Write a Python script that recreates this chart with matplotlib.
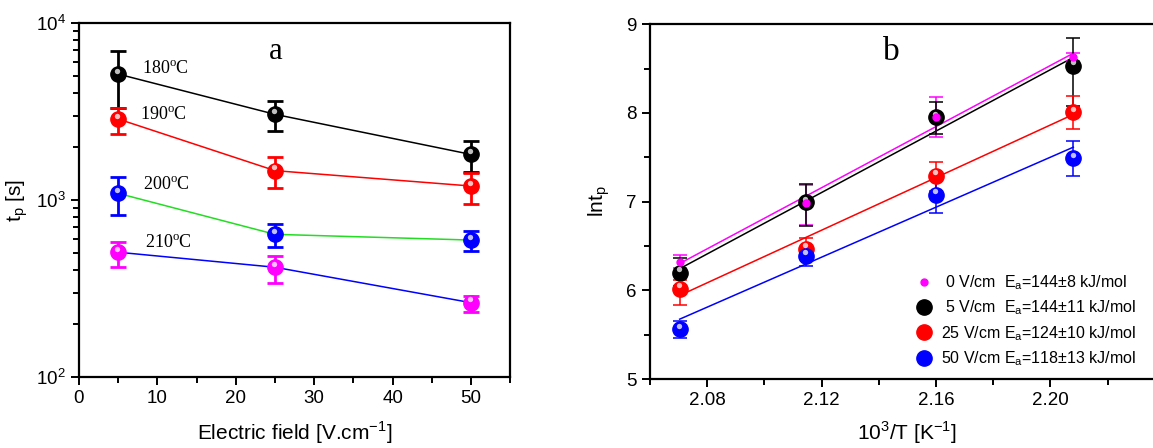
import numpy as np
import matplotlib
matplotlib.use("Agg")
import matplotlib.pyplot as plt
from matplotlib import transforms
from matplotlib.ticker import FixedLocator, FuncFormatter, MultipleLocator

plt.rcParams['font.family'] = ['Liberation Sans', 'DejaVu Sans']

# ---- panel a : t_p vs electric field ----
field = [5, 25, 50]
temps = ['180', '190', '200', '210']
tp = {
    '180': [5150, 3050, 1810],
    '190': [2870, 1466, 1200],
    '200': [1091, 640, 594],
    '210': [507, 417, 263],
}
tp_hi = {
    '180': [6950, 3640, 2150],
    '190': [3300, 1740, 1426],
    '200': [1355, 731, 668],
    '210': [577, 485, 287],
}
tp_lo = {
    '180': [3310, 2470, 1445],
    '190': [2350, 1175, 949],
    '200': [822, 541, 518],
    '210': [417, 341, 234],
}
marker_col_a = {'180': 'black', '190': 'red', '200': 'blue', '210': 'magenta'}
line_col_a = {'180': 'black', '190': 'red', '200': '#22dd22', '210': 'blue'}
label_pos_a = {'180': (8.0, 5500), '190': (7.8, 3020), '200': (8.2, 1205), '210': (8.4, 571)}

# ---- panel b : ln t_p vs 1000/T ----
invT = [2.0704, 2.1144, 2.160, 2.208]
fields_b = ['0', '5', '25', '50']
lntp = {
    '0': [6.32, 6.98, 7.95, 8.63],
    '5': [6.20, 6.99, 7.95, 8.53],
    '25': [6.02, 6.47, 7.29, 8.01],
    '50': [5.56, 6.39, 7.08, 7.49],
}
lntp_hi = {
    '0': [6.40, 7.19, 8.18, 8.68],
    '5': [6.36, 7.20, 8.12, 8.84],
    '25': [6.12, 6.59, 7.45, 8.19],
    '50': [5.65, 6.47, 7.24, 7.68],
}
lntp_lo = {
    '0': [6.25, 6.74, 7.73, 8.58],
    '5': [6.05, 6.72, 7.76, 8.08],
    '25': [5.83, 6.35, 7.12, 7.82],
    '50': [5.46, 6.27, 6.87, 7.29],
}
col_b = {'0': 'magenta', '5': 'black', '25': 'red', '50': 'blue'}
legend_b = {
    '0': ' 0 V/cm  E$_\\mathregular{a}$=144\u00b18 kJ/mol',
    '5': ' 5 V/cm  E$_\\mathregular{a}$=144\u00b111 kJ/mol',
    '25': '25 V/cm E$_\\mathregular{a}$=124\u00b110 kJ/mol',
    '50': '50 V/cm E$_\\mathregular{a}$=118\u00b113 kJ/mol',
}


def ball(ax, x, y, color, ms):
    # Origin style shaded sphere: base disc plus a small highlight
    h = ax.plot(x, y, 'o', ms=ms, color=color, mec=color, zorder=4, ls='none')[0]
    off = transforms.offset_copy(ax.transData, fig=ax.figure, x=-0.5, y=2.5, units='points')
    ax.plot(x, y, 'o', ms=ms * 0.35, color='white', mec='none', alpha=0.75,
            transform=off, zorder=5, ls='none')
    return h


def style_axes(ax):
    for s in ax.spines.values():
        s.set_linewidth(1.6)
    ax.tick_params(which='both', direction='out', width=1.4, labelsize=13.5,
                   top=False, right=False)
    ax.tick_params(which='major', length=6)
    ax.tick_params(which='minor', length=4)


fig = plt.figure(figsize=(11.53, 4.48), dpi=100)

# panel a
ax1 = fig.add_axes([0.0685, 0.1585, 0.374, 0.790])
for t in temps:
    y = np.array(tp[t])
    err = [y - np.array(tp_lo[t]), np.array(tp_hi[t]) - y]
    ax1.plot(field, y, '-', color=line_col_a[t], lw=1.1, zorder=2)
    ax1.errorbar(field, y, yerr=err, fmt='none', ecolor=marker_col_a[t],
                 elinewidth=2.0, capsize=6, capthick=2.0, zorder=3)
    ball(ax1, field, y, marker_col_a[t], 11)
    lx, ly = label_pos_a[t]
    ax1.text(lx, ly, t + '$^\\mathregular{o}$C', family='Liberation Serif',
             fontsize=13, va='center', ha='left')
ax1.text(25.1, 6890, 'a', family='Liberation Serif', fontsize=22, ha='center', va='center')
ax1.set_yscale('log')
ax1.set_xlim(0, 55)
ax1.set_ylim(100, 10000)
ax1.xaxis.set_major_locator(MultipleLocator(10))
ax1.xaxis.set_minor_locator(MultipleLocator(5))
ax1.yaxis.set_major_formatter(FuncFormatter(
    lambda v, p: '10$^\\mathregular{%d}$' % round(np.log10(v))))
style_axes(ax1)
ax1.set_xlabel('Electric field [V.cm$^\\mathregular{-1}$]', fontsize=15, labelpad=9)
ax1.set_ylabel('t$_\\mathregular{p}$ [s]', fontsize=15, labelpad=4)

# panel b
ax2 = fig.add_axes([0.5637, 0.154, 0.4466, 0.792])
handles = []
for f in fields_b:
    y = np.array(lntp[f])
    err = [y - np.array(lntp_lo[f]), np.array(lntp_hi[f]) - y]
    k, b = np.polyfit(invT, y, 1)
    xs = np.array([invT[0], invT[-1]])
    ax2.plot(xs, k * xs + b, '-', color=col_b[f], lw=1.1, zorder=2)
    ax2.errorbar(invT, y, yerr=err, fmt='none', ecolor=col_b[f],
                 elinewidth=1.1, capsize=5, capthick=1.1, zorder=3)
    if f == '0':
        h = ax2.plot(invT, y, 'o', ms=5, color=col_b[f], ls='none', zorder=6)[0]
    else:
        h = ball(ax2, invT, y, col_b[f], 11)
    handles.append(h)
ax2.text(2.1445, 8.69, 'b', family='Liberation Serif', fontsize=24, ha='center', va='center')
ax2.legend(handles, [legend_b[f] for f in fields_b], loc='lower left',
           bbox_to_anchor=(0.485, -0.01), frameon=False, fontsize=11.5,
           handletextpad=0.5, labelspacing=0.42, handlelength=1.2)
ax2.set_xlim(2.06, 2.24)
ax2.set_ylim(5, 9)
ax2.xaxis.set_major_locator(FixedLocator([2.08, 2.12, 2.16, 2.20]))
ax2.xaxis.set_minor_locator(FixedLocator([2.06, 2.10, 2.14, 2.18, 2.22]))
ax2.xaxis.set_major_formatter(FuncFormatter(lambda v, p: '%.2f' % v))
ax2.yaxis.set_major_locator(MultipleLocator(1))
ax2.yaxis.set_minor_locator(MultipleLocator(0.5))
style_axes(ax2)
ax2.set_xlabel('10$^\\mathregular{3}$/T [K$^\\mathregular{-1}$]', fontsize=15, labelpad=7)
ax2.set_ylabel('lnt$_\\mathregular{p}$', fontsize=15, labelpad=10)

fig.savefig('out.png', dpi=100)
